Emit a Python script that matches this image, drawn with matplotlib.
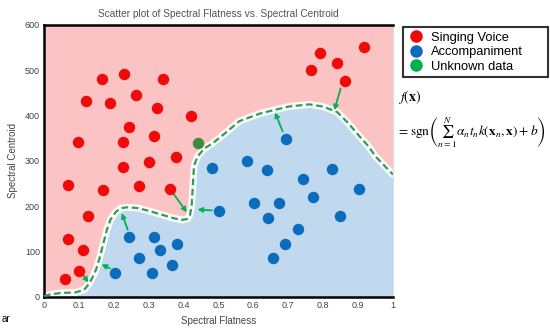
import matplotlib
matplotlib.use("Agg")
import matplotlib.pyplot as plt
from matplotlib.lines import Line2D

plt.rcParams['font.family'] = ['Liberation Sans', 'DejaVu Sans']
plt.rcParams['mathtext.fontset'] = 'stix'

# Data
singing_x = [0.918, 0.791, 0.840, 0.764, 0.862, 0.230, 0.166, 0.340, 0.120, 0.263, 0.190,
             0.325, 0.420, 0.243, 0.098, 0.225, 0.314, 0.377, 0.225, 0.300,
             0.069, 0.170, 0.273, 0.362, 0.127, 0.070, 0.112, 0.099, 0.061]
singing_y = [551, 539, 517, 500, 476, 493, 481, 480, 432, 445, 428,
             417, 399, 375, 343, 343, 356, 308, 287, 297,
             248, 237, 245, 238, 178, 129, 104, 57, 39]
accomp_x = [0.693, 0.480, 0.581, 0.640, 0.826, 0.741, 0.903, 0.770, 0.602, 0.674, 0.501,
            0.642, 0.848, 0.729, 0.690, 0.657, 0.243, 0.315, 0.331, 0.380, 0.271, 0.367,
            0.204, 0.309]
accomp_y = [349, 284, 299, 280, 282, 260, 238, 221, 207, 207, 190,
            174, 178, 150, 117, 85, 132, 132, 104, 118, 86, 70,
            53, 53]
unknown_x = [0.441]
unknown_y = [339]

boundary_x = [0.0, 0.02, 0.05, 0.09, 0.115, 0.13, 0.14, 0.15, 0.16, 0.17, 0.18, 0.19,
              0.205, 0.22, 0.24, 0.27, 0.30, 0.34, 0.37, 0.395, 0.41, 0.418, 0.423,
              0.426, 0.43, 0.44, 0.46, 0.485, 0.52, 0.56, 0.62, 0.70, 0.76, 0.80,
              0.84, 0.87, 0.90, 0.93, 0.95, 0.975, 1.0]
boundary_y = [2, 6, 9, 10, 16, 30, 45, 62, 88, 118, 148, 170,
              187, 196, 198, 196, 190, 181, 174, 170, 172, 180, 200,
              240, 290, 310, 328, 340, 362, 388, 405, 420, 425, 420,
              408, 385, 358, 332, 310, 290, 270]

# margin arrows: (start_x, start_y, end_x, end_y)
arrow_x0 = [0.113, 0.189, 0.240, 0.370, 0.481, 0.684, 0.850]
arrow_y0 = [48, 63, 148, 229, 191, 365, 460]
arrow_x1 = [0.127, 0.165, 0.223, 0.409, 0.440, 0.662, 0.832]
arrow_y1 = [32, 72, 185, 187, 193, 407, 412]

x_ticks = [0, 0.1, 0.2, 0.3, 0.4, 0.5, 0.6, 0.7, 0.8, 0.9, 1]
x_ticklabels = ['0', '0.1', '0.2', '0.3', '0.4', '0.5', '0.6', '0.7', '0.8', '0.9', '1']
y_ticks = [0, 100, 200, 300, 400, 500, 600]

RED = '#f00a0a'
BLUE = '#0b6cbd'
GREEN = '#00b050'
PINK = '#fbc3c3'
LBLUE = '#c0d9ee'

fig = plt.figure(figsize=(5.5, 3.29), dpi=100)
ax = fig.add_axes([44/550, 1-297/329, 349/550, 272/329])
ax.set_xlim(0, 1)
ax.set_ylim(0, 600)

ax.set_facecolor(PINK)
ax.fill_between(boundary_x, 0, boundary_y, color=LBLUE, lw=0, zorder=1)
ax.plot(boundary_x, boundary_y, color='white', lw=5, alpha=0.9, zorder=2,
        solid_capstyle='round', solid_joinstyle='round')
ax.plot(boundary_x, boundary_y, color='#2e9e55', lw=1.6, ls=(0, (3, 1.6)), zorder=3)

for x0, y0, x1, y1 in zip(arrow_x0, arrow_y0, arrow_x1, arrow_y1):
    ax.annotate('', xy=(x1, y1), xytext=(x0, y0),
                arrowprops=dict(arrowstyle='->', color=GREEN, lw=1.3,
                                shrinkA=0, shrinkB=0, mutation_scale=7), zorder=4)

ax.scatter(singing_x, singing_y, s=68, color=RED, zorder=5, linewidths=0)
ax.scatter(accomp_x, accomp_y, s=68, color=BLUE, zorder=5, linewidths=0)
ax.scatter(unknown_x, unknown_y, s=68, color='#3b8c3e', zorder=5, linewidths=0)

ax.set_xticks(x_ticks)
ax.set_xticklabels(x_ticklabels)
ax.set_yticks(y_ticks)
ax.tick_params(length=0, labelsize=6.5, labelcolor='#444444', pad=3)
for s in ['left', 'bottom', 'top']:
    ax.spines[s].set_linewidth(1.8)
    ax.spines[s].set_color('black')
ax.spines['right'].set_linewidth(0.8)
ax.spines['right'].set_color('#dddddd')

ax.set_xlabel('Spectral Flatness', fontsize=7, color='#444444', labelpad=4)
ax.set_ylabel('Spectral Centroid', fontsize=7, color='#444444', labelpad=5)
ax.set_title('Scatter plot of Spectral Flatness vs. Spectral Centroid',
             fontsize=7.3, color='#555555', pad=6)

handles = [Line2D([], [], marker='o', ls='', color=RED, markersize=8),
           Line2D([], [], marker='o', ls='', color=BLUE, markersize=8),
           Line2D([], [], marker='o', ls='', color=GREEN, markersize=8)]
leg = fig.legend(handles, ['Singing Voice', 'Accompaniment', 'Unknown data'],
                 loc='upper left',
                 bbox_to_anchor=(403/550, 1-79/329, 145/550, 52/329),
                 mode='expand',
                 fontsize=9.3, frameon=True, fancybox=False, edgecolor='black',
                 handletextpad=0.5, borderpad=0.35, labelspacing=0.2,
                 handlelength=1.3, borderaxespad=0)
leg.get_frame().set_linewidth(1.5)

fig.text(398/550, 1-97/329, r'$f(\mathbf{x})$', fontsize=10, va='center', ha='left')
fig.text(397/550, 1-133/329,
         r'$= \mathrm{sgn}\left(\sum_{n=1}^{N}\alpha_n t_n k(\mathbf{x}_n, \mathbf{x}) + b\right)$',
         fontsize=9.6, va='center', ha='left')

fig.text(2/550, 1-319/329, 'ar', fontsize=7, va='center', ha='left', color='black')

fig.savefig('out.png', dpi=100)
